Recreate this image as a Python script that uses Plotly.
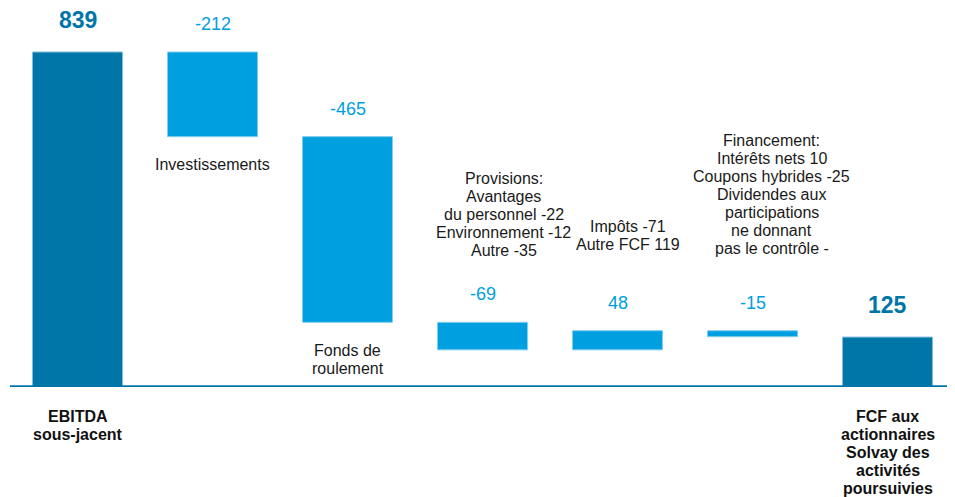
import plotly.graph_objects as go

# ---- data ----
categories = ["EBITDA sous-jacent", "Investissements", "Fonds de roulement",
              "Provisions", "Impôts / Autre FCF", "Financement", "FCF"]
values = [839, -212, -465, -69, 48, -15, 125]
measures = ["absolute", "relative", "relative", "relative", "relative", "relative", "absolute"]
value_labels = ["839", "-212", "-465", "-69", "48", "-15", "125"]

cat_labels = {0: ["EBITDA", "sous-jacent"],
              6: ["FCF aux", "actionnaires", "Solvay des", "activités", "poursuivies"]}
below_labels = {1: ["Investissements"], 2: ["Fonds de", "roulement"]}
above_labels = {
    3: ["Provisions:", "Avantages", "du personnel -22", "Environnement -12", "Autre -35"],
    4: ["Impôts -71", "Autre FCF 119"],
    5: ["Financement:", "Intérêts nets 10", "Coupons hybrides -25", "Dividendes aux",
        "participations", "ne donnant", "pas le contrôle -"],
}

DARK = "#0076A8"
LIGHT = "#009FE0"
FONT = "Liberation Sans, Arial, sans-serif"

fig = go.Figure(go.Waterfall(
    x=categories, y=values, measure=measures,
    totals=dict(marker=dict(color=DARK, line=dict(color="#7fbfdc", width=1))),
    decreasing=dict(marker=dict(color=LIGHT, line=dict(color="#80cdee", width=1))),
    increasing=dict(marker=dict(color=LIGHT, line=dict(color="#80cdee", width=1))),
    connector=dict(visible=False),
    hoverinfo="skip",
))

# compute bar extents from data
tops, bottoms = [], []
running = 0
for v, m in zip(values, measures):
    if m == "absolute":
        start, end = 0, v
        running = v
    else:
        start, end = running, running + v
        running = end
    tops.append(max(start, end))
    bottoms.append(min(start, end))

def add_lines(xi, y, lines, first_shift, size=16, bold=False, color="#1a1a1a",
              xshift=0, spacing=18):
    for i, line in enumerate(lines):
        txt = f"<b>{line}</b>" if bold else line
        fig.add_annotation(x=categories[xi], y=y, text=txt, showarrow=False,
                           xanchor="center", yanchor="middle",
                           yshift=first_shift - i * spacing, xshift=xshift,
                           font=dict(family=FONT, size=size, color=color))

# value labels
for i, lab in enumerate(value_labels):
    if measures[i] == "absolute":
        add_lines(i, tops[i], [lab], 32, size=23, bold=True, color=DARK)
    else:
        add_lines(i, tops[i], [lab], 28, size=18, color=LIGHT)

# category labels under baseline
for i, lines in cat_labels.items():
    add_lines(i, 0, lines, -29, size=16, bold=True, color="#111111")

# descriptive labels under bars
for i, lines in below_labels.items():
    add_lines(i, bottoms[i], lines, -28, size=16)

# descriptive labels above bars
above_cfg = {3: (144, 21), 4: (104, 10), 5: (190, 19)}
for i, lines in above_labels.items():
    sh, xs = above_cfg[i]
    add_lines(i, tops[i], lines, sh, size=16, xshift=xs)

# baseline
fig.add_shape(type="line", xref="paper", yref="y", x0=0, x1=1, y0=0, y1=0,
              line=dict(color=DARK, width=3.5), layer="above")

fig.update_layout(
    width=955, height=497,
    margin=dict(l=2, r=8, t=0, b=118),
    plot_bgcolor="white", paper_bgcolor="white",
    showlegend=False,
    waterfallgap=1/3,
    xaxis=dict(showticklabels=False, showgrid=False, zeroline=False,
               range=[-0.5, 6.5], fixedrange=True),
    yaxis=dict(showticklabels=False, showgrid=False, zeroline=False,
               range=[0, 949.2], fixedrange=True),
)

fig.write_html("out.html", config={"displayModeBar": False})
